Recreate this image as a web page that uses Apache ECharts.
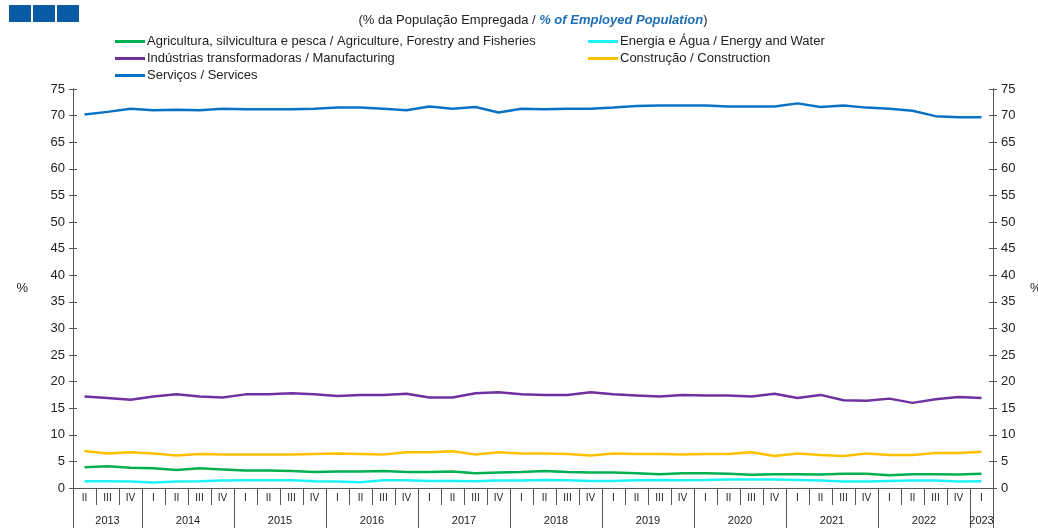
<!DOCTYPE html>
<html>
<head>
<meta charset="utf-8">
<script src="https://cdn.jsdelivr.net/npm/echarts@6/dist/echarts.min.js"></script>
<style>
  html, body { margin: 0; padding: 0; background: #fff; }
  #chart { width: 1038px; height: 528px; }
</style>
</head>
<body>
<div id="chart"></div>
<script>
// quarters 2013 II .. 2023 I
const quarters = [
  'II', 'III', 'IV',
  'I', 'II', 'III', 'IV',
  'I', 'II', 'III', 'IV',
  'I', 'II', 'III', 'IV',
  'I', 'II', 'III', 'IV',
  'I', 'II', 'III', 'IV',
  'I', 'II', 'III', 'IV',
  'I', 'II', 'III', 'IV',
  'I', 'II', 'III', 'IV',
  'I', 'II', 'III', 'IV',
  'I'
]
const years = ['2013', '2014', '2015', '2016', '2017', '2018', '2019', '2020', '2021', '2022', '2023']
const quartersPerYear = [3, 4, 4, 4, 4, 4, 4, 4, 4, 4, 1]

const agriculture = [3.9, 4.1, 3.8, 3.7, 3.4, 3.7, 3.5, 3.3, 3.3, 3.2, 3.0, 3.1, 3.1, 3.2, 3.0, 3.0, 3.1, 2.75, 2.9, 3.0,
  3.2, 3.0, 2.9, 2.9, 2.75, 2.6, 2.75, 2.75, 2.7, 2.5, 2.6, 2.6, 2.55, 2.7, 2.7, 2.4, 2.6, 2.6, 2.55, 2.7]
const energy = [1.25, 1.25, 1.2, 1.05, 1.2, 1.25, 1.4, 1.45, 1.45, 1.45, 1.25, 1.2, 1.1, 1.45, 1.45, 1.3, 1.3, 1.25, 1.4, 1.4,
  1.5, 1.45, 1.3, 1.3, 1.45, 1.5, 1.45, 1.5, 1.6, 1.6, 1.6, 1.5, 1.4, 1.2, 1.2, 1.3, 1.4, 1.4, 1.2, 1.25]
const manufacturing = [17.2, 16.9, 16.6, 17.2, 17.6, 17.2, 17.0, 17.6, 17.6, 17.8, 17.6, 17.3, 17.5, 17.5, 17.7, 17.0, 17.0, 17.8, 18.0, 17.6,
  17.5, 17.5, 18.0, 17.6, 17.4, 17.2, 17.5, 17.4, 17.4, 17.2, 17.7, 16.9, 17.5, 16.5, 16.4, 16.8, 16.0, 16.7, 17.1, 16.9]
const construction = [6.95, 6.5, 6.7, 6.5, 6.1, 6.4, 6.3, 6.3, 6.3, 6.3, 6.4, 6.5, 6.4, 6.3, 6.7, 6.7, 6.9, 6.3, 6.7, 6.5,
  6.5, 6.4, 6.1, 6.5, 6.4, 6.4, 6.3, 6.4, 6.4, 6.7, 6.0, 6.5, 6.2, 6.0, 6.5, 6.2, 6.2, 6.6, 6.6, 6.8]
const services = [70.2, 70.7, 71.3, 71.0, 71.1, 71.0, 71.3, 71.2, 71.2, 71.2, 71.3, 71.5, 71.5, 71.3, 71.0, 71.7, 71.3, 71.6, 70.6, 71.3,
  71.2, 71.3, 71.3, 71.5, 71.8, 71.9, 71.9, 71.9, 71.7, 71.7, 71.7, 72.3, 71.6, 71.9, 71.5, 71.3, 70.9, 69.9, 69.7, 69.7]

const seriesNames = [
  'Agricultura, silvicultura e pesca / Agriculture, Forestry and Fisheries',
  'Energia e Água / Energy and Water',
  'Indústrias transformadoras / Manufacturing',
  'Construção / Construction',
  'Serviços / Services'
]
const seriesData = [agriculture, energy, manufacturing, construction, services]
const colors = ['#00b050', '#1ef2f7', '#7030a0', '#ffc000', '#0a72c4']

// year row: half-quarter slots so that year labels sit between separators
const halfSlots = []
const yearLabelAt = {}
const yearSepAt = {}
let q = 0
yearSepAt[0] = true
years.forEach((y, i) => {
  yearLabelAt[q + quartersPerYear[i]] = y
  q += quartersPerYear[i] * 2
  yearSepAt[q] = true
})
for (let k = 0; k <= quarters.length * 2; k++) halfSlots.push(yearLabelAt[k] || '')

const font = 'Liberation Sans, Arial, sans-serif'
const myChart = echarts.init(document.getElementById('chart'))

const yBase = {
  type: 'value',
  min: 0,
  max: 75,
  interval: 5,
  splitLine: { show: false },
  axisLine: { show: true, lineStyle: { color: '#555', width: 1 } },
  axisTick: { show: true, length: 4, lineStyle: { color: '#555' } },
  axisLabel: { color: '#222', fontSize: 13, fontFamily: font },
  nameTextStyle: { color: '#222', fontSize: 13, fontFamily: font },
  nameLocation: 'middle',
  nameRotate: 0
}

myChart.setOption({
  animation: false,
  title: {
    text: '{a|(% da População Empregada / }{b|% of Employed Population}{a|)}',
    left: 528,
    textAlign: 'center',
    top: 9,
    textStyle: {
      fontWeight: 'normal',
      rich: {
        a: { fontSize: 13, color: '#222', fontWeight: 'normal', fontFamily: font },
        b: { fontSize: 13, color: '#1f6fb8', fontStyle: 'italic', fontWeight: 'bold', fontFamily: font }
      }
    }
  },
  graphic: [
    { type: 'rect', shape: { x: 9, y: 5, width: 22, height: 17 }, style: { fill: '#0b5aa4' } },
    { type: 'rect', shape: { x: 33, y: 5, width: 22, height: 17 }, style: { fill: '#0b5aa4' } },
    { type: 'rect', shape: { x: 57, y: 5, width: 22, height: 17 }, style: { fill: '#0b5aa4' } }
  ],
  legend: [{
    orient: 'vertical',
    left: 110,
    top: 30,
    itemWidth: 30,
    itemHeight: 3,
    itemGap: 4,
    icon: 'rect',
    data: [seriesNames[0], seriesNames[2], seriesNames[4]],
    textStyle: { color: '#222', fontSize: 13, fontFamily: font, padding: [0, 0, 0, -3] }
  }, {
    orient: 'vertical',
    left: 583,
    top: 30,
    itemWidth: 30,
    itemHeight: 3,
    itemGap: 4,
    icon: 'rect',
    data: [seriesNames[1], seriesNames[3]],
    textStyle: { color: '#222', fontSize: 13, fontFamily: font, padding: [0, 0, 0, -3] }
  }],
  grid: { left: 73, right: 45, top: 89, bottom: 40, outerBoundsMode: 'none', containLabel: false },
  xAxis: [{
    type: 'category',
    data: quarters,
    boundaryGap: true,
    axisLine: { lineStyle: { color: '#555' } },
    axisTick: { show: true, length: 17, interval: 0, lineStyle: { color: '#555' } },
    axisLabel: { interval: 0, color: '#222', fontSize: 10, fontFamily: font, margin: 5 }
  }, {
    type: 'category',
    data: halfSlots,
    boundaryGap: false,
    position: 'bottom',
    axisLine: { show: false },
    axisTick: {
      show: true,
      length: 45,
      interval: (idx) => !!yearSepAt[idx],
      lineStyle: { color: '#555' }
    },
    axisLabel: {
      interval: (idx) => !!yearLabelAt[idx],
      color: '#222',
      fontSize: 11,
      fontFamily: font,
      margin: 27
    }
  }],
  yAxis: [
    Object.assign({}, yBase, { position: 'left', name: '%', nameGap: 45 }),
    Object.assign({}, yBase, { position: 'right', name: '%', nameGap: 37 }),
    Object.assign({}, yBase, { position: 'left', axisLabel: { show: false }, axisTick: { show: true, inside: true, length: 4, lineStyle: { color: '#555' } } }),
    Object.assign({}, yBase, { position: 'right', axisLabel: { show: false }, axisTick: { show: true, inside: true, length: 4, lineStyle: { color: '#555' } } })
  ],
  series: seriesData.map((d, i) => ({
    name: seriesNames[i],
    type: 'line',
    data: d,
    xAxisIndex: 0,
    yAxisIndex: 0,
    showSymbol: false,
    smooth: false,
    color: colors[i],
    lineStyle: { width: 2.5, color: colors[i] }
  }))
})
</script>
</body>
</html>
